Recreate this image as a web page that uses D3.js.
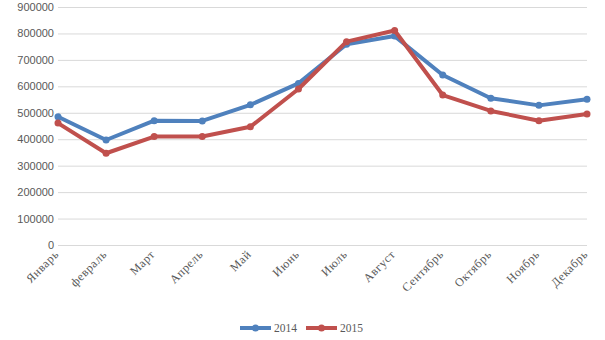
<!DOCTYPE html>
<html><head><meta charset="utf-8">
<script src="https://cdn.jsdelivr.net/npm/d3@7"></script>
<style>body{margin:0;background:#fff}svg{display:block}</style>
</head><body>
<script>
const months = ["Январь","февраль","Март","Апрель","Май","Июнь","Июль","Август","Сентябрь","Октябрь","Ноябрь","Декабрь"];
const s2014 = [485000,397000,470000,469000,530000,611000,759000,790000,643000,555000,528000,551000];
const s2015 = [461000,347000,410000,410000,447000,590000,769000,811000,567000,507000,470000,495000];
const yTicks = [0,100000,200000,300000,400000,500000,600000,700000,800000,900000];
const seriesNames = ["2014","2015"];
const colors = ["#4f81bd","#c0504d"];

const W=605,H=340;
const svg=d3.select("body").append("svg").attr("width",W).attr("height",H);
const x=d3.scalePoint().domain(months).range([58,587]);
const y=d3.scaleLinear().domain([0,900000]).range([245,7]);

const grid=svg.append("g");
grid.selectAll("line").data(yTicks).enter().append("line")
  .attr("x1",58).attr("x2",587).attr("y1",d=>y(d)+0.5).attr("y2",d=>y(d)+0.5)
  .attr("stroke","#d9d9d9").attr("stroke-width",1);

const yAxis=d3.axisLeft(y).tickValues(yTicks).tickSize(0).tickPadding(4).tickFormat(d3.format("d"));
const ga=svg.append("g").attr("transform","translate(58,0)").call(yAxis);
ga.select(".domain").remove();
ga.selectAll("text").attr("font-family","'Liberation Sans',Arial,sans-serif").attr("font-size","11px").attr("fill","#595959");

const xAxis=d3.axisBottom(x).tickSize(0).tickPadding(0);
const gx=svg.append("g").attr("transform","translate(0,245)").call(xAxis);
gx.select(".domain").remove();
gx.selectAll("text").attr("font-family","'Liberation Serif','Times New Roman',serif").attr("font-size","12px").attr("fill","#595959")
  .attr("letter-spacing","0.6px")
  .attr("text-anchor","end").attr("dy",0).attr("y",0)
  .attr("transform","translate(1,10) rotate(-45)");

const data=[s2014,s2015];
const line=d3.line().x((d,i)=>x(months[i])).y(d=>y(d));
data.forEach((s,k)=>{
  svg.append("path").datum(s).attr("d",line).attr("fill","none").attr("stroke",colors[k]).attr("stroke-width",4).attr("stroke-linejoin","round");
  svg.append("g").selectAll("circle").data(s).enter().append("circle")
    .attr("cx",(d,i)=>x(months[i])).attr("cy",d=>y(d)).attr("r",3.5).attr("fill",colors[k]);
});

const leg=svg.append("g");
const lx=[240,306];
seriesNames.forEach((n,k)=>{
  const g=leg.append("g").attr("transform",`translate(${lx[k]},328)`);
  g.append("line").attr("x1",0).attr("x2",31).attr("y1",0).attr("y2",0).attr("stroke",colors[k]).attr("stroke-width",4);
  g.append("circle").attr("cx",15.5).attr("cy",0).attr("r",3.5).attr("fill",colors[k]);
  g.append("text").attr("x",34).attr("y",4).text(n).attr("font-family","'Liberation Serif','Times New Roman',serif").attr("font-size","11.5px").attr("fill","#595959");
});
</script>
</body></html>
